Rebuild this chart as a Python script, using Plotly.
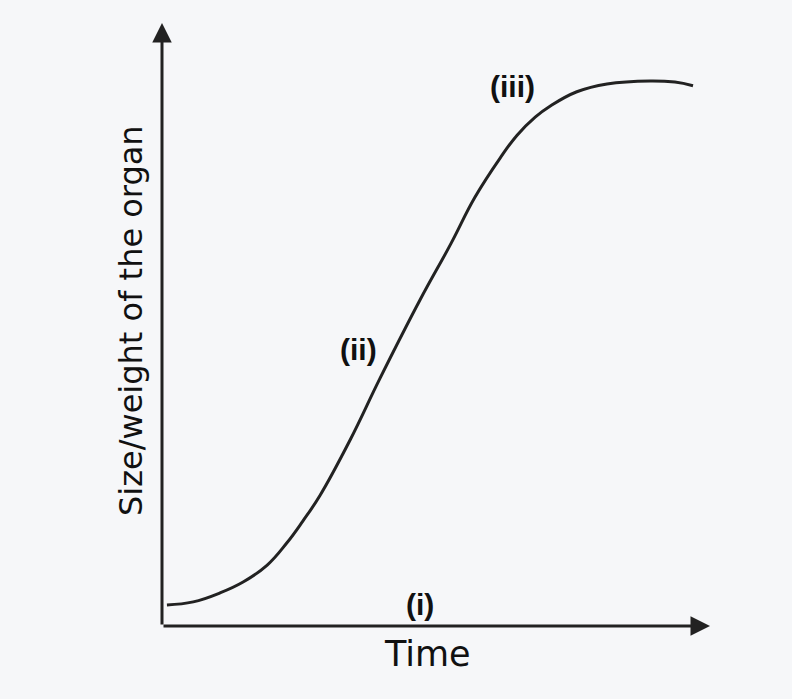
import plotly.graph_objects as go

# Sigmoid growth curve (arbitrary units)
time = [0.9, 5.7, 10.6, 14.8, 19.2, 22.8, 25.7, 28.8, 34.3, 39.8, 47.1, 52.6,
        57.1, 61.7, 64.8, 68.1, 70.8, 75.7, 81.2, 89.1, 93.6, 96.9]
size = [3.5, 4.0, 5.5, 7.3, 10.1, 13.8, 17.4, 21.6, 30.8, 41.1, 54.1, 63.2,
        71.1, 77.6, 81.4, 84.4, 86.2, 88.6, 89.9, 90.4, 90.2, 89.6]

phase_labels = ["(i)", "(ii)", "(iii)"]
x_title = "Time"
y_title = "Size/weight of the organ"

INK = "#222222"
BG = "#f6f7f9"
FONT = "DejaVu Sans"
LABEL_FONT = "Liberation Sans"

fig = go.Figure()
fig.add_trace(go.Scatter(
    x=time, y=size, mode="lines",
    line=dict(color=INK, width=3, shape="spline", smoothing=1.2),
    hoverinfo="skip", showlegend=False,
))

# axes drawn as arrows
fig.add_annotation(x=100, y=0, ax=0, ay=0, xref="x", yref="y", axref="x", ayref="y",
                   text="", showarrow=True, arrowhead=2, arrowsize=1.3,
                   arrowwidth=3, arrowcolor=INK, standoff=0, startstandoff=0)
fig.add_annotation(x=0, y=100, ax=0, ay=0, xref="x", yref="y", axref="x", ayref="y",
                   text="", showarrow=True, arrowhead=2, arrowsize=1.3,
                   arrowwidth=3, arrowcolor=INK, standoff=0, startstandoff=0)

# phase labels
label_pos = [(47.1, 3.5), (35.8, 45.9), (63.9, 89.4)]
for lab, (lx, ly) in zip(phase_labels, label_pos):
    fig.add_annotation(x=lx, y=ly, xref="x", yref="y", text=lab, showarrow=False,
                       font=dict(family=LABEL_FONT, size=30, color="#111111", weight="bold"),
                       xanchor="center", yanchor="middle")

# axis titles (paper coordinates so they may sit outside the plot area)
fig.add_annotation(x=0.4836, y=-0.046, xref="paper", yref="paper", text=x_title,
                   showarrow=False,
                   font=dict(family=FONT, size=35, color="#111111"),
                   xanchor="center", yanchor="middle")
fig.add_annotation(x=-0.0566, y=0.5075, xref="paper", yref="paper", text=y_title,
                   showarrow=False, textangle=-90,
                   font=dict(family=FONT, size=32, color="#111111"),
                   xanchor="center", yanchor="middle")

fig.update_xaxes(range=[0, 100], visible=False, fixedrange=True)
fig.update_yaxes(range=[0, 100], visible=False, fixedrange=True)
fig.update_layout(
    width=792, height=699,
    margin=dict(l=162, r=82, t=23, b=73),
    paper_bgcolor=BG, plot_bgcolor=BG,
    showlegend=False,
)

fig.write_html(
    "out.html",
    config={"displayModeBar": False},
    post_script="document.body.style.margin='0';document.body.style.overflow='hidden';"
                "document.body.style.background='" + BG + "';",
)
